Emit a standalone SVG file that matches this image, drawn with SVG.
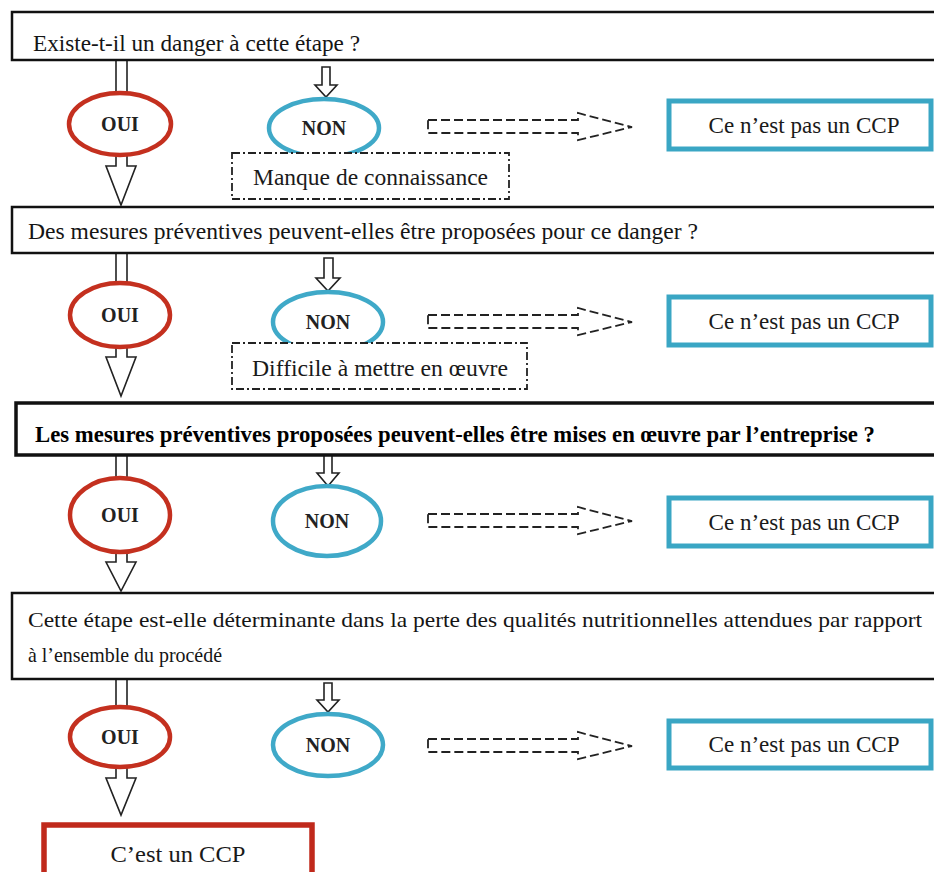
<svg xmlns="http://www.w3.org/2000/svg" width="934" height="872" viewBox="0 0 934 872">
  <defs>
    <style>
      .q { fill: #ffffff; stroke: #111111; stroke-width: 2.5; }
      .qt { font-family: "Liberation Serif", "Times New Roman", serif; font-size: 24px; fill: #151515; }
      .qb { font-family: "Liberation Serif", "Times New Roman", serif; font-size: 23px; font-weight: bold; fill: #000000; }
      .oui { fill: #ffffff; stroke: #c4301f; stroke-width: 4.5; }
      .non { fill: #ffffff; stroke: #3fa9c8; stroke-width: 4.5; }
      .lbl { font-family: "Liberation Serif", "Times New Roman", serif; font-size: 20px; font-weight: bold; fill: #222222; text-anchor: middle; }
      .blk { fill: #ffffff; stroke: #222222; stroke-width: 1.6; stroke-linejoin: miter; }
      .dash { fill: none; stroke: #222222; stroke-width: 1.8; stroke-dasharray: 9 4; }
      .note { fill: #ffffff; stroke: #222222; stroke-width: 1.8; stroke-dasharray: 8 3 2 3; }
      .nt { font-family: "Liberation Serif", "Times New Roman", serif; font-size: 24px; fill: #1a1a1a; }
      .ncp { fill: #ffffff; stroke: #3aa6c4; stroke-width: 5; }
      .cp { fill: #ffffff; stroke: #c0291b; stroke-width: 5.5; }
      .ct { font-family: "Liberation Serif", "Times New Roman", serif; font-size: 24px; fill: #1a1a1a; text-anchor: middle; }
    </style>
  </defs>

  <rect width="934" height="872" fill="#ffffff"/>

  <!-- connectors: hollow block arrows and dashed outline arrows -->
  <g id="connectors">
    <!-- step 1 -->
    <rect class="blk" x="116" y="60" width="11" height="38"/>
    <polygon class="blk" points="322,67 330,67 330,85 337,85 326,97 315,85 322,85"/>
    <polygon class="blk" points="116,150 127,150 127,166 136,166 121,205 106,166 116,166"/>
    <polygon class="dash" points="428,120 578,120 578,113 632,127 578,140 578,133 428,133"/>
    <!-- step 2 -->
    <rect class="blk" x="116" y="253" width="11" height="35"/>
    <polygon class="blk" points="324,258 333,258 333,278 340,278 328,291 316,278 324,278"/>
    <polygon class="blk" points="116,342 127,342 127,357 136,357 121,396 106,357 116,357"/>
    <polygon class="dash" points="428,315 578,315 578,308 632,322 578,335 578,328 428,328"/>
    <!-- step 3 -->
    <rect class="blk" x="116" y="455" width="11" height="27"/>
    <polygon class="blk" points="324,455 332,455 332,473 339,473 328,486 317,473 324,473"/>
    <polygon class="blk" points="116,549 127,549 127,562 136,562 121,591 106,562 116,562"/>
    <polygon class="dash" points="428,514 578,514 578,507 632,521 578,534 578,527 428,527"/>
    <!-- step 4 -->
    <rect class="blk" x="116" y="679" width="11" height="30"/>
    <polygon class="blk" points="324,683 332,683 332,700 339,700 328,712 317,700 324,700"/>
    <polygon class="blk" points="116,764 127,764 127,778 136,778 121,815 106,778 116,778"/>
    <polygon class="dash" points="428,739 578,739 578,732 632,746 578,759 578,752 428,752"/>
  </g>

  <!-- step 1 -->
  <g id="q1">
    <rect class="q" x="12" y="12" width="940" height="48"/>
    <text class="qt" x="33" y="51" textLength="327" lengthAdjust="spacingAndGlyphs">Existe-t-il un danger à cette étape ?</text>
  </g>
  <g id="oui1">
    <ellipse class="oui" cx="120" cy="124" rx="51" ry="31"/>
    <text class="lbl" x="120" y="131">OUI</text>
  </g>
  <g id="non1">
    <ellipse class="non" cx="324" cy="128" rx="55" ry="29"/>
    <text class="lbl" x="324" y="135">NON</text>
  </g>
  <g id="note1">
    <rect class="note" x="232" y="153" width="277" height="46"/>
    <text class="nt" x="253" y="185" textLength="235" lengthAdjust="spacingAndGlyphs">Manque de connaissance</text>
  </g>
  <g id="ncp1">
    <rect class="ncp" x="669" y="101" width="262" height="48"/>
    <text class="ct" x="804" y="133" textLength="191" lengthAdjust="spacingAndGlyphs">Ce n’est pas un CCP</text>
  </g>

  <!-- step 2 -->
  <g id="q2">
    <rect class="q" x="12" y="207" width="940" height="46"/>
    <text class="qt" x="28" y="239" textLength="670" lengthAdjust="spacingAndGlyphs">Des mesures préventives peuvent-elles être proposées pour ce danger ?</text>
  </g>
  <g id="oui2">
    <ellipse class="oui" cx="120" cy="315" rx="50" ry="32"/>
    <text class="lbl" x="120" y="322">OUI</text>
  </g>
  <g id="non2">
    <ellipse class="non" cx="328" cy="322" rx="55" ry="30"/>
    <text class="lbl" x="328" y="329">NON</text>
  </g>
  <g id="note2">
    <rect class="note" x="232" y="343" width="295" height="46"/>
    <text class="nt" x="252" y="376" textLength="256" lengthAdjust="spacingAndGlyphs">Difficile à mettre en œuvre</text>
  </g>
  <g id="ncp2">
    <rect class="ncp" x="669" y="297" width="262" height="48"/>
    <text class="ct" x="804" y="329" textLength="191" lengthAdjust="spacingAndGlyphs">Ce n’est pas un CCP</text>
  </g>

  <!-- step 3 -->
  <g id="q3">
    <rect class="q" x="16" y="403" width="940" height="52" style="stroke-width:3.5"/>
    <text class="qb" x="35" y="442" textLength="840" lengthAdjust="spacingAndGlyphs">Les mesures préventives proposées peuvent-elles être mises en œuvre par l’entreprise ?</text>
  </g>
  <g id="oui3">
    <ellipse class="oui" cx="120" cy="515" rx="50" ry="37"/>
    <text class="lbl" x="120" y="522">OUI</text>
  </g>
  <g id="non3">
    <ellipse class="non" cx="327" cy="521" rx="54" ry="35"/>
    <text class="lbl" x="327" y="528">NON</text>
  </g>
  <g id="ncp3">
    <rect class="ncp" x="669" y="498" width="262" height="48"/>
    <text class="ct" x="804" y="530" textLength="191" lengthAdjust="spacingAndGlyphs">Ce n’est pas un CCP</text>
  </g>

  <!-- step 4 -->
  <g id="q4">
    <rect class="q" x="12" y="593" width="940" height="86"/>
    <text class="qt" x="28" y="627" style="font-size:21px" textLength="894" lengthAdjust="spacingAndGlyphs">Cette étape est-elle déterminante dans la perte des qualités nutritionnelles attendues par rapport</text>
    <text class="qt" x="28" y="662" style="font-size:21px" textLength="194" lengthAdjust="spacingAndGlyphs">à l’ensemble du procédé</text>
  </g>
  <g id="oui4">
    <ellipse class="oui" cx="120" cy="737" rx="50" ry="30"/>
    <text class="lbl" x="120" y="744">OUI</text>
  </g>
  <g id="non4">
    <ellipse class="non" cx="328" cy="745" rx="55" ry="31"/>
    <text class="lbl" x="328" y="752">NON</text>
  </g>
  <g id="ncp4">
    <rect class="ncp" x="669" y="721" width="262" height="47"/>
    <text class="ct" x="804" y="752" textLength="191" lengthAdjust="spacingAndGlyphs">Ce n’est pas un CCP</text>
  </g>
  <g id="cp">
    <rect class="cp" x="44" y="825" width="268" height="60"/>
    <text class="ct" x="178" y="862" textLength="135" lengthAdjust="spacingAndGlyphs">C’est un CCP</text>
  </g>
</svg>
